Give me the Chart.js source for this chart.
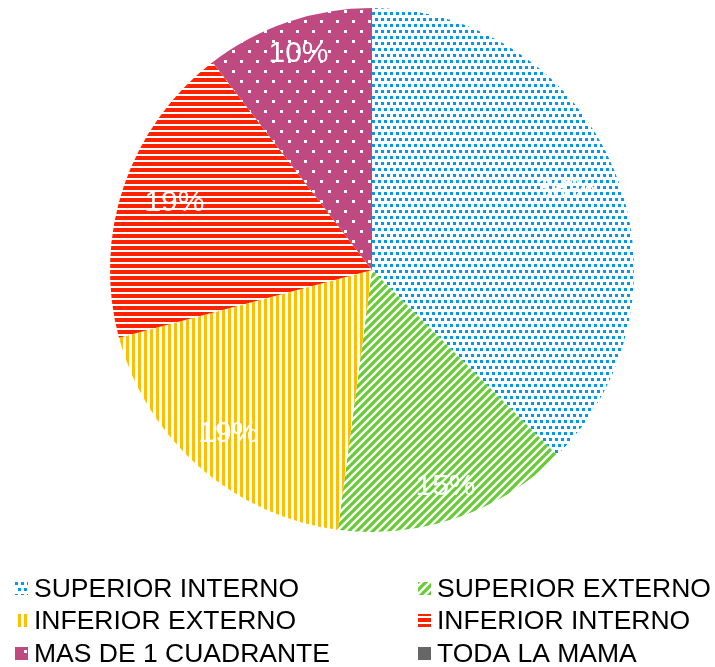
<!DOCTYPE html>
<html>
<head>
<meta charset="utf-8">
<script src="https://cdn.jsdelivr.net/npm/chart.js@4/dist/chart.umd.min.js"></script>
<style>
  html, body { margin: 0; padding: 0; background: #fff; font-family: "Liberation Sans", Arial, sans-serif; }
</style>
</head>
<body>
<canvas id="grafico" width="715" height="667"></canvas>
<script>
// Localización de tumores por cuadrante
const categorias = ['SUPERIOR INTERNO', 'SUPERIOR EXTERNO', 'INFERIOR EXTERNO', 'INFERIOR INTERNO', 'MAS DE 1 CUADRANTE', 'TODA LA MAMA'];
const casos = [18, 7, 9, 9, 5, 0];
const colores = ['#0099f0', '#66cc33', '#ffbf00', '#ff2200', '#bf4a82', '#666666'];
const tramas = ['puntos', 'diagonal', 'vertical', 'horizontal', 'lunares', 'solido'];
const fuente = '"Liberation Sans", Arial, sans-serif';

function patron(tipo, color) {
    const c = document.createElement('canvas');
    const g = c.getContext('2d');
    if (tipo === 'puntos') {
        c.width = 6; c.height = 12;
        g.fillStyle = '#fff'; g.fillRect(0, 0, 6, 12);
        g.fillStyle = color;
        g.fillRect(0, 0, 3, 3); g.fillRect(3, 6, 3, 3);
    } else if (tipo === 'diagonal') {
        c.width = 8; c.height = 8;
        g.fillStyle = '#fff'; g.fillRect(0, 0, 8, 8);
        g.strokeStyle = color; g.lineWidth = 3.2;
        g.beginPath();
        g.moveTo(-2, 10); g.lineTo(10, -2);
        g.moveTo(-6, 6); g.lineTo(6, -6);
        g.moveTo(2, 14); g.lineTo(14, 2);
        g.stroke();
    } else if (tipo === 'vertical') {
        c.width = 6; c.height = 6;
        g.fillStyle = '#fff'; g.fillRect(0, 0, 6, 6);
        g.fillStyle = color; g.fillRect(0, 0, 3, 6);
    } else if (tipo === 'horizontal') {
        c.width = 6; c.height = 6;
        g.fillStyle = '#fff'; g.fillRect(0, 0, 6, 6);
        g.fillStyle = color; g.fillRect(0, 0, 6, 4);
    } else if (tipo === 'lunares') {
        c.width = 16; c.height = 20;
        g.fillStyle = color; g.fillRect(0, 0, 16, 20);
        g.fillStyle = '#fff';
        g.fillRect(0, 0, 3, 3); g.fillRect(8, 10, 3, 3);
    } else {
        return color;
    }
    return g.createPattern(c, 'repeat');
}

const rellenos = tramas.map((t, i) => patron(t, colores[i]));

const etiquetas = {
    id: 'etiquetas',
    afterDraw(chart) {
        const g = chart.ctx;
        const total = casos.reduce((a, b) => a + b, 0);
        const arcos = chart.getDatasetMeta(0).data;
        g.save();
        g.font = '30px ' + fuente;
        g.fillStyle = '#fff';
        g.textAlign = 'center';
        g.textBaseline = 'middle';
        arcos.forEach((a, i) => {
            if (!casos[i]) return;
            const p = a.getProps(['x', 'y', 'startAngle', 'endAngle', 'outerRadius'], true);
            const m = (p.startAngle + p.endAngle) / 2;
            // dentro del extremo: más adentro cuando la etiqueta queda a los lados
            const r = p.outerRadius * (0.912 - 0.122 * Math.abs(Math.cos(m)));
            g.fillText(Math.round(casos[i] / total * 100) + '%', p.x + Math.cos(m) * r, p.y + Math.sin(m) * r);
        });

        // leyenda en dos columnas
        g.font = '26.5px ' + fuente;
        g.textAlign = 'left';
        const colX = [15, 418];
        const filaY = [589, 621, 654];
        categorias.forEach((nombre, i) => {
            const x = colX[i % 2], y = filaY[Math.floor(i / 2)];
            g.fillStyle = rellenos[i];
            g.fillRect(x, y - 7, 13, 13);
            g.fillStyle = '#000';
            g.fillText(nombre, x + 19, y + 1);
        });
        g.restore();
    }
};

function dibujar() {
    const ctx = document.getElementById('grafico').getContext('2d');
    new Chart(ctx, {
        type: 'pie',
        data: {
            labels: categorias,
            datasets: [{
                data: casos,
                backgroundColor: rellenos,
                borderWidth: 0,
                hoverOffset: 0
            }]
        },
        options: {
            responsive: false,
            animation: false,
            layout: { padding: { top: 8, bottom: 135, left: 29, right: 0 } },
            plugins: {
                legend: { display: false },
                tooltip: { enabled: false }
            }
        },
        plugins: [etiquetas]
    });
}

// esperar a la fuente para que el canvas no use la de reserva
Promise.all([
    document.fonts.load('30px "Liberation Sans"'),
    document.fonts.load('26.5px "Liberation Sans"')
]).then(dibujar, dibujar);
</script>
</body>
</html>
